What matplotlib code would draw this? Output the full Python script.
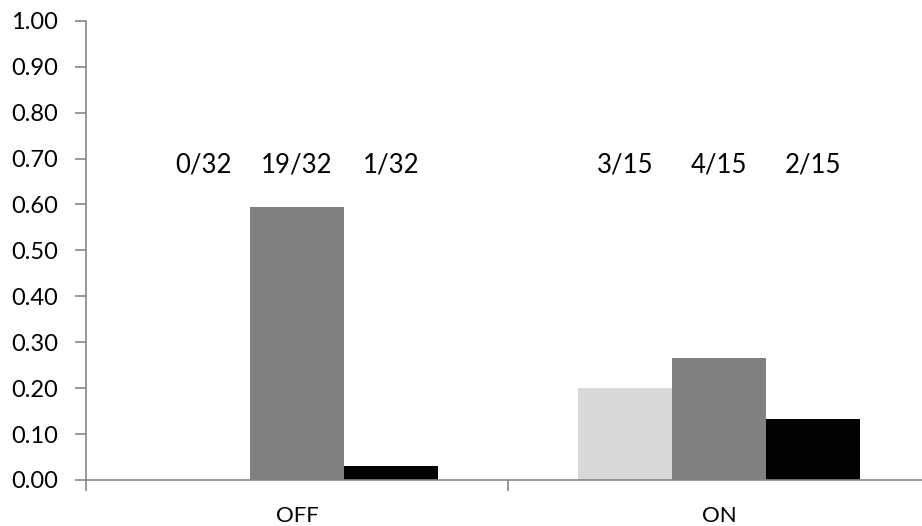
import numpy as np
import matplotlib
matplotlib.use("Agg")
import matplotlib.pyplot as plt

plt.rcParams['font.family'] = ['Lato', 'DejaVu Sans']

categories = ['OFF', 'ON']
totals = [32, 15]
# counts per series (light, gray, black) for each category
light_counts = [0, 3]
gray_counts = [19, 4]
black_counts = [1, 2]
series_colors = ['#d9d9d9', '#808080', '#000000']

series = [light_counts, gray_counts, black_counts]

fig = plt.figure(figsize=(9.22, 5.26), dpi=100)
ax = fig.add_axes([0.0933, 0.0875, 0.9154, 0.873])

x = np.arange(len(categories))
w = 0.2227
label_y = 0.685
for i, (counts, col) in enumerate(zip(series, series_colors)):
    vals = [c / t for c, t in zip(counts, totals)]
    pos = x + (i - 1) * w
    ax.bar(pos, vals, width=w, color=col, zorder=2)
    for p, c, t in zip(pos, counts, totals):
        ax.text(p, label_y, f'{c}/{t}', ha='center', va='center', fontsize=18.5)

ax.set_ylim(0, 1.0)
ax.set_xlim(-0.5, 1.5)
ax.set_yticks(np.arange(0, 1.01, 0.1))
ax.set_yticklabels([f'{v:.2f}' for v in np.arange(0, 1.01, 0.1)], fontsize=17)

ax.set_xticks([-0.5, 0.5, 1.5])
ax.set_xticklabels([])
ax.set_xticks(x, minor=True)
ax.set_xticklabels(categories, minor=True, fontsize=16)
ax.tick_params(axis='x', which='minor', length=0, pad=19)
ax.tick_params(axis='x', which='major', length=8, color='#868686', width=1.2)
ax.tick_params(axis='y', length=8, color='#868686', width=1.2, pad=12)

for s in ['top', 'right']:
    ax.spines[s].set_visible(False)
for s in ['left', 'bottom']:
    ax.spines[s].set_color('#868686')
    ax.spines[s].set_linewidth(1.2)

fig.savefig('out.png', dpi=100)
